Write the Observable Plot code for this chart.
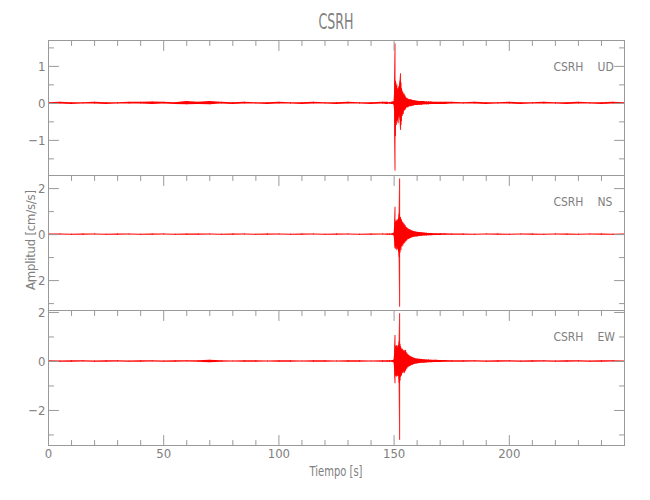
<!DOCTYPE html>
<html><head><meta charset="utf-8">
<script src="https://cdn.jsdelivr.net/npm/d3@7"></script>
<script src="https://cdn.jsdelivr.net/npm/@observablehq/plot@0.6"></script>
<style>
body{margin:0;background:#fff;}
#wrap{position:relative;width:650px;height:500px;font-family:"Liberation Sans Narrow","DejaVu Sans Condensed","Liberation Sans",sans-serif;color:#808080;}
#wrap svg{position:absolute;left:0;overflow:visible;}
</style></head><body><div id="wrap"></div>
<script>
const station = "CSRH";
const channels = ["UD", "NS", "EW"];
const xTickLabels = [0, 50, 100, 150, 200];
const xMinorTicks = [10,20,30,40,60,70,80,90,110,120,130,140,160,170,180,190,210,220,230,240];

// time (s) of each envelope sample
const time = [0,5,10,15,20,25,30,35,40,45,50,55,60,65,70,75,80,85,90,95,100,105,110,115,120,125,130,135,140,145,
  147,148,149,149.6,
  150,150.2,150.4,150.6,150.8,151,151.2,151.4,151.6,151.8,152,152.2,152.4,152.6,152.8,153,153.2,153.4,153.6,153.8,154,154.2,154.4,154.6,154.8,155,
  155.5,156,156.5,157,157.5,158,158.5,159,
  160,161,162,163,164,165,166,
  168,170,172,175,
  180,185,190,195,200,205,210,215,220,225,230,235,240,245,250];

// UD: max / min acceleration per sample (cm/s/s)
const udHi = [0.02,0.03,0.02,0.02,0.03,0.02,0.02,0.03,0.03,0.04,0.03,0.02,0.05,0.03,0.05,0.03,0.02,0.03,0.02,0.02,0.03,0.02,0.02,0.03,0.02,0.02,0.03,0.02,0.02,0.03,
  0.03,0.02,0.03,0.04,
  0.05,0.3,1.61,0.6,0.55,0.45,0.5,0.35,0.4,0.3,0.45,0.35,0.5,0.6,0.8,0.55,0.4,0.35,0.3,0.3,0.25,0.22,0.25,0.18,0.2,0.15,
  0.14,0.12,0.1,0.1,0.09,0.08,0.07,0.07,
  0.06,0.05,0.05,0.05,0.04,0.04,0.04,
  0.03,0.03,0.03,0.03,
  0.02,0.03,0.02,0.02,0.03,0.02,0.02,0.03,0.02,0.02,0.03,0.02,0.02,0.03,0.02];
const udLo = [-0.02,-0.02,-0.03,-0.02,-0.02,-0.03,-0.02,-0.02,-0.02,-0.03,-0.02,-0.03,-0.04,-0.03,-0.04,-0.02,-0.03,-0.02,-0.02,-0.03,-0.02,-0.02,-0.03,-0.02,-0.02,-0.03,-0.02,-0.02,-0.03,-0.02,
  -0.03,-0.02,-0.03,-0.03,
  -0.05,-0.2,-1.83,-0.9,-0.5,-0.6,-0.45,-0.5,-0.4,-0.55,-0.35,-0.4,-0.3,-0.45,-0.73,-0.6,-0.5,-0.3,-0.35,-0.25,-0.3,-0.2,-0.2,-0.2,-0.15,-0.17,
  -0.12,-0.12,-0.1,-0.08,-0.09,-0.07,-0.07,-0.06,
  -0.06,-0.05,-0.05,-0.04,-0.04,-0.04,-0.03,
  -0.03,-0.03,-0.03,-0.02,
  -0.02,-0.02,-0.03,-0.02,-0.02,-0.03,-0.02,-0.02,-0.02,-0.03,-0.02,-0.02,-0.03,-0.02,-0.02];

// NS
const nsHi = [0.03,0.03,0.02,0.03,0.03,0.02,0.03,0.03,0.02,0.03,0.03,0.02,0.03,0.03,0.03,0.02,0.03,0.03,0.02,0.03,0.03,0.02,0.03,0.03,0.02,0.03,0.03,0.02,0.03,0.03,
  0.03,0.03,0.03,0.04,
  0.06,0.3,1.19,0.5,0.55,0.6,0.5,0.65,0.55,0.6,0.7,0.9,2.42,0.7,0.75,0.6,0.65,0.5,0.55,0.45,0.5,0.4,0.45,0.35,0.4,0.32,
  0.3,0.26,0.22,0.2,0.17,0.15,0.13,0.12,
  0.1,0.09,0.08,0.07,0.06,0.05,0.05,
  0.04,0.04,0.04,0.03,
  0.03,0.02,0.03,0.03,0.02,0.03,0.03,0.02,0.03,0.03,0.02,0.03,0.03,0.02,0.03];
const nsLo = [-0.03,-0.02,-0.03,-0.03,-0.02,-0.03,-0.03,-0.02,-0.03,-0.03,-0.02,-0.03,-0.03,-0.03,-0.02,-0.03,-0.03,-0.02,-0.03,-0.03,-0.02,-0.03,-0.03,-0.02,-0.03,-0.03,-0.02,-0.03,-0.03,-0.02,
  -0.03,-0.03,-0.03,-0.04,
  -0.06,-0.25,-0.62,-0.5,-0.65,-0.55,-0.7,-0.5,-0.65,-0.6,-0.75,-1.0,-3.16,-0.8,-0.6,-0.7,-0.5,-0.55,-0.45,-0.5,-0.4,-0.42,-0.35,-0.38,-0.3,-0.32,
  -0.28,-0.22,-0.2,-0.17,-0.15,-0.13,-0.12,-0.1,
  -0.1,-0.08,-0.07,-0.06,-0.06,-0.05,-0.05,
  -0.04,-0.04,-0.03,-0.03,
  -0.03,-0.03,-0.02,-0.03,-0.03,-0.02,-0.03,-0.03,-0.02,-0.03,-0.03,-0.02,-0.03,-0.03,-0.02];

// EW
const ewHi = [0.03,0.02,0.03,0.03,0.02,0.03,0.03,0.02,0.03,0.03,0.02,0.03,0.03,0.03,0.05,0.03,0.02,0.03,0.03,0.02,0.03,0.03,0.02,0.03,0.03,0.02,0.03,0.03,0.02,0.03,
  0.03,0.03,0.03,0.04,
  0.06,0.3,1.06,0.55,0.6,0.65,0.55,0.6,0.5,0.65,0.6,0.8,1.95,0.7,0.6,0.55,0.5,0.45,0.5,0.4,0.45,0.35,0.45,0.4,0.35,0.45,
  0.35,0.28,0.24,0.2,0.18,0.15,0.14,0.12,
  0.1,0.09,0.08,0.07,0.06,0.06,0.05,
  0.05,0.04,0.04,0.03,
  0.03,0.03,0.02,0.03,0.03,0.02,0.03,0.03,0.02,0.03,0.03,0.02,0.03,0.03,0.02];
const ewLo = [-0.02,-0.03,-0.03,-0.02,-0.03,-0.03,-0.02,-0.03,-0.03,-0.02,-0.03,-0.03,-0.02,-0.03,-0.05,-0.03,-0.02,-0.03,-0.03,-0.02,-0.03,-0.03,-0.02,-0.03,-0.03,-0.02,-0.03,-0.03,-0.02,-0.03,
  -0.03,-0.03,-0.03,-0.04,
  -0.06,-0.3,-0.91,-0.6,-0.55,-0.64,-0.6,-0.5,-0.62,-0.55,-0.6,-0.9,-3.22,-0.8,-0.65,-0.55,-0.6,-0.45,-0.5,-0.45,-0.4,-0.4,-0.5,-0.45,-0.35,-0.4,
  -0.32,-0.26,-0.22,-0.2,-0.16,-0.15,-0.13,-0.11,
  -0.1,-0.08,-0.07,-0.07,-0.06,-0.05,-0.05,
  -0.04,-0.04,-0.03,-0.03,
  -0.03,-0.02,-0.03,-0.03,-0.02,-0.03,-0.03,-0.02,-0.03,-0.03,-0.02,-0.03,-0.03,-0.02,-0.03];

const udTickLabels = [-1, 0, 1], udMinorTicks = [-1.5, -0.5, 0.5, 1.5];
const nsTickLabels = [-2, 0, 2], nsMinorTicks = [-3, -1, 1];
const ewTickLabels = [-2, 0, 2], ewMinorTicks = [-3, -1, 1];

const RED = "#ff0000", AX = "#999999", TXT = "#808080";
const FONT = '"Liberation Sans Narrow","DejaVu Sans Condensed","Liberation Sans",sans-serif';
const tickShape = {draw(ctx, l) { ctx.moveTo(0, 0); ctx.lineTo(0, -l); }};

function ticks(values, anchor, len) {
  const rot = {left: 90, right: -90, top: 180, bottom: 0}[anchor];
  const ch = (anchor === "left" || anchor === "right") ? {y: d => d} : {x: d => d};
  return Plot.vector(values, {...ch, frameAnchor: anchor, rotate: rot, length: len, anchor: "start",
    shape: tickShape, stroke: AX, strokeWidth: 1});
}

function panel({hi, lo, channel, yDomain, yLabels, yMinor, top, height, marginTop, marginBottom, bottomAxis}) {
  const rows = time.map((t, i) => ({t, hi: hi[i], lo: lo[i]}));
  const marks = [
    Plot.areaY(rows, {x: "t", y1: "lo", y2: "hi", fill: RED, curve: "linear"}),
    Plot.ruleX(rows, {x: "t", y1: "lo", y2: "hi", stroke: RED, strokeWidth: 0.9}),
    Plot.frame({stroke: AX}),
    ticks(yLabels, "left", 10), ticks(yMinor, "left", 5),
    ticks(yLabels, "right", 10), ticks(yMinor, "right", 5),
    ticks(xTickLabels, "top", 10), ticks(xMinorTicks, "top", 5),
    Plot.axisY(yLabels, {anchor: "left", tickSize: 0, tickPadding: 3, label: null, fill: TXT}),
    Plot.text([station], {frameAnchor: "top-right", dx: -41, dy: 22, textAnchor: "end", fill: TXT, fontSize: 12}),
    Plot.text([channel], {frameAnchor: "top-right", dx: -27, dy: 22, textAnchor: "start", fill: TXT, fontSize: 12})
  ];
  if (bottomAxis) {
    marks.push(ticks(xTickLabels, "bottom", 10), ticks(xMinorTicks, "bottom", 5),
      Plot.axisX(xTickLabels, {anchor: "bottom", tickSize: 0, tickPadding: 3, label: null, fill: TXT}));
  }
  const svg = Plot.plot({
    width: 650, height, marginLeft: 48, marginRight: 26, marginTop, marginBottom,
    style: {fontFamily: FONT, fontSize: "13px", color: TXT, background: "transparent", overflow: "visible"},
    x: {domain: [0, 250], axis: bottomAxis ? undefined : null},
    y: {domain: yDomain},
    marks
  });
  svg.style.top = top + "px";
  return svg;
}

const wrap = document.getElementById("wrap");
wrap.append(
  panel({hi: udHi, lo: udLo, channel: channels[0], yDomain: [-1.95, 1.70], yLabels: udTickLabels, yMinor: udMinorTicks,
    top: 0, height: 175, marginTop: 40, marginBottom: 0}),
  panel({hi: nsHi, lo: nsLo, channel: channels[1], yDomain: [-3.30, 2.57], yLabels: nsTickLabels, yMinor: nsMinorTicks,
    top: 175, height: 135, marginTop: 0, marginBottom: 0}),
  panel({hi: ewHi, lo: ewLo, channel: channels[2], yDomain: [-3.43, 2.08], yLabels: ewTickLabels, yMinor: ewMinorTicks,
    top: 310, height: 190, marginTop: 0, marginBottom: 55, bottomAxis: true})
);

// title and axis titles
const ov = d3.create("svg").attr("width", 650).attr("height", 500).style("top", "0px")
  .style("font-family", FONT).style("pointer-events", "none");
ov.append("text").attr("x", 336).attr("y", 29).attr("text-anchor", "middle").attr("font-size", 22)
  .attr("fill", TXT).attr("textLength", 35).attr("lengthAdjust", "spacingAndGlyphs").text(station);
ov.append("text").attr("x", 336).attr("y", 476).attr("text-anchor", "middle").attr("font-size", 13.5)
  .attr("fill", TXT).attr("textLength", 53).attr("lengthAdjust", "spacingAndGlyphs").text("Tiempo [s]");
ov.append("text").attr("transform", "translate(35,240) rotate(-90)").attr("text-anchor", "middle").attr("font-size", 13)
  .attr("fill", TXT).attr("textLength", 100).attr("lengthAdjust", "spacing").text("Amplitud [cm/s/s]");
wrap.append(ov.node());
</script></body></html>
